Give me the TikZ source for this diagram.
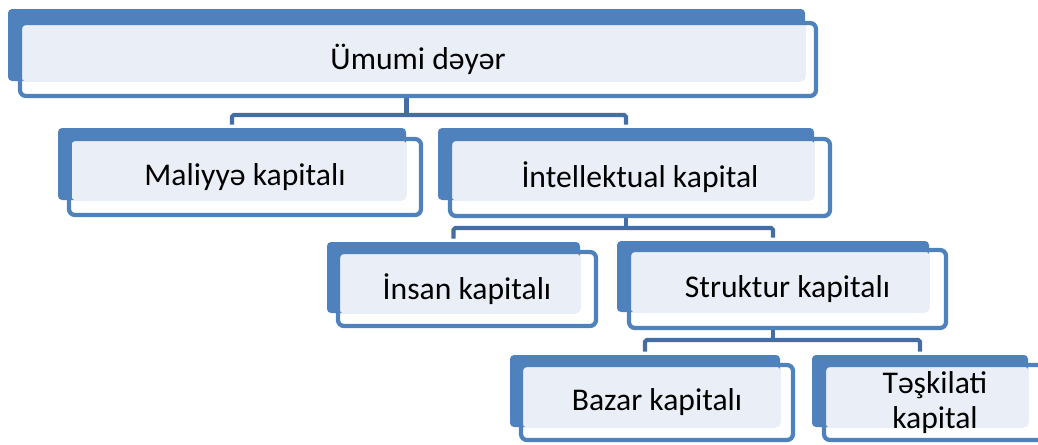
\documentclass[tikz,border=0pt]{standalone}
\usepackage{fontspec}
\setmainfont{Carlito}
\usetikzlibrary{fit,backgrounds}
\definecolor{boxblue}{HTML}{4F81BD}
\definecolor{boxlight}{HTML}{EAEFF7}
\definecolor{linkblue}{HTML}{446DA3}

\begin{document}
\begin{tikzpicture}[x=0.02cm, y=-0.02cm]

\tikzstyle{boxback}=[rectangle, fill=boxblue, rounded corners=2.3pt, inner sep=0pt]
\tikzstyle{boxfill}=[rectangle, fill=boxlight, rounded corners=1.5pt, inner sep=0pt]
\tikzstyle{boxframe}=[rectangle, draw=boxblue, line width=2.4pt, rounded corners=3.4pt, inner sep=0pt]
\tikzstyle{boxtext}=[inner sep=0pt, font=\fontsize{18}{20}\selectfont, align=center]
\tikzstyle{link}=[draw=linkblue, line width=2.3pt, rounded corners=1pt]

\useasboundingbox (0,0) rectangle (1038,444);

% level 0
\node (Ab) [boxback] [fit={(8,9) (805,81)}] {};
\node (Af) [boxfill] [fit={(22,22) (805,81)}] {};
\node (A)  [boxframe] [fit={(20,23) (816,96)}] {};
\node (At) [boxtext] at (A) {Ümumi dəyər};

% level 1
\node (Bb) [boxback] [fit={(58,128) (406,200)}] {};
\node (Bf) [boxfill] [fit={(72,141) (406,200)}] {};
\node (B)  [boxframe] [fit={(69,139) (421,215)}] {};
\node (Bt) [boxtext] at (B) {Maliyyə kapitalı};

\node (Cb) [boxback] [fit={(438,128) (814,200)}] {};
\node (Cf) [boxfill] [fit={(452,141) (814,200)}] {};
\node (C)  [boxframe] [fit={(450,139) (830,216)}] {};
\node (Ct) [boxtext] at (C) {İntellektual kapital};

% level 2
\node (Db) [boxback] [fit={(327,242) (580,313)}] {};
\node (Df) [boxfill] [fit={(340,254) (580,313)}] {};
\node (D)  [boxframe] [fit={(338,252) (596,326)}] {};
\node (Dt) [boxtext] at (D) {İnsan kapitalı};

\node (Eb) [boxback] [fit={(617,241) (929,312)}] {};
\node (Ef) [boxfill] [fit={(631,252) (929,312)}] {};
\node (E)  [boxframe] [fit={(629,250) (946,328)}] {};
\node (Et) [boxtext] at (E) {Struktur kapitalı};

% level 3
\node (Fb) [boxback] [fit={(510,355) (780,427)}] {};
\node (Ff) [boxfill] [fit={(523,367) (780,427)}] {};
\node (F)  [boxframe] [fit={(521,365) (793,440)}] {};
\node (Ft) [boxtext] at (F) {Bazar kapitalı};

\node (Gb) [boxback] [fit={(812,355) (1028,427)}] {};
\node (Gf) [boxfill] [fit={(826,367) (1028,427)}] {};
\node (G)  [boxframe] [fit={(824,365) (1046,440)}] {};
\node (Gt) [boxtext] at (G) {Təşkilati\\kapital};

% connectors
\begin{pgfonlayer}{background}
\coordinate (Abus) at (Ab.south |- 0,115);
\coordinate (Cbus) at (Cb.south |- 0,228);
\coordinate (Ebus) at (Eb.south |- 0,340);

\draw [link] (Ab.south |- A.south) -- (Abus);
\draw [link, shorten <=1.7pt, shorten >=1.7pt] (Bb.north) |- (Abus) -| (Cb.north);

\draw [link] (Cb.south |- C.south) -- (Cbus);
\draw [link, shorten <=1.7pt, shorten >=1.7pt] (Db.north) |- (Cbus) -| (Eb.north);

\draw [link] (Eb.south |- E.south) -- (Ebus);
\draw [link, shorten <=1.7pt, shorten >=1.7pt] (Fb.north) |- (Ebus) -| (Gb.north);
\end{pgfonlayer}

\end{tikzpicture}
\end{document}
